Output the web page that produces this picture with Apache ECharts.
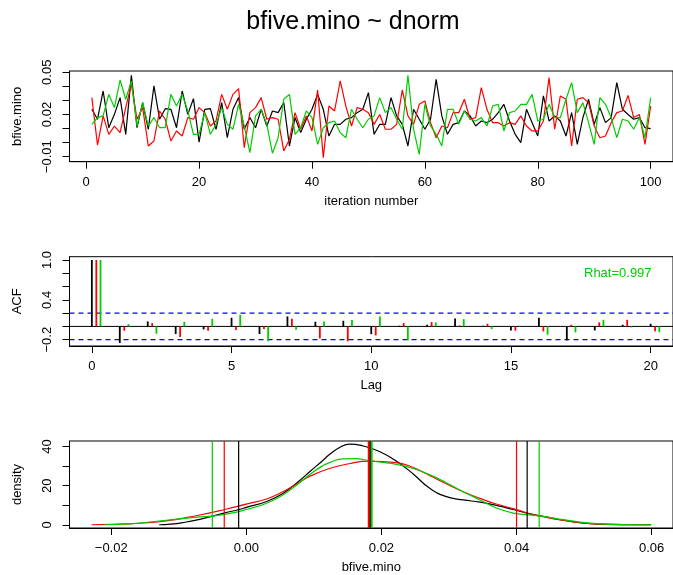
<!DOCTYPE html>
<html><head><meta charset="utf-8">
<script src="https://cdn.jsdelivr.net/npm/echarts@6/dist/echarts.min.js"></script>
<style>html,body{margin:0;padding:0;background:#fff}#c{width:673px;height:575px}</style>
</head><body><div id="c"></div>
<script>
// ---------- data ----------
const chainColors = ['#000000', '#FF0000', '#00CD00'];
const iterations = Array.from({length: 100}, (_, i) => i + 1);

const traceBlack = [0.0237,0.0166,0.0367,0.0106,0.0201,0.032,0.0059,0.0478,0.0106,0.0284,0.0095,0.0403,0.0166,0.0241,0.0237,0.0106,0.0367,0.0201,0.0313,0.0004,0.0237,0.0241,0.0095,0.0284,0.0035,
0.0237,0.032,0.0095,0.0178,0.0106,0.0237,0.0118,0.0225,0.0213,0.0284,-0.0024,0.0178,0.0071,0.0166,0.0237,0.0343,0.0237,0.0047,0.013,0.013,0.0166,0.0178,0.0213,0.0237,0.0355,
0.0059,0.013,0.013,0.032,0.019,0.013,-0.0024,0.0237,0.0166,0.0095,0.0166,0.045,0.019,0.0059,0.013,0.0142,0.0225,0.019,0.0118,0.0154,0.0142,0.0166,0.0213,0.0272,0.0154,
0.0059,0.0,0.0237,0.0142,0.0047,0.0332,0.0154,0.019,0.0154,0.0047,0.0213,-0.0012,0.0178,0.0308,0.013,0.0249,0.0142,0.0178,0.0426,0.0237,0.020,0.0166,0.0178,0.0106,0.010];
const traceRed = [0.032,-0.0017,0.019,0.0059,0.0118,0.0071,0.0249,0.0414,0.0166,0.0249,-0.0024,0.0012,0.0225,0.0166,0.0012,0.0083,0.0047,0.0178,0.0166,0.0249,0.0213,0.0118,0.0154,0.0343,0.0237,
0.0343,0.0384,-0.0036,0.0213,0.0249,0.032,0.0166,0.0178,0.0166,-0.0059,0.0023,0.0213,0.0095,0.019,0.0083,0.0374,-0.0107,0.026,0.0225,0.0438,0.026,0.0118,0.0249,0.0237,0.0213,
0.013,0.020,0.0095,0.0095,0.013,0.0374,0.019,0.013,0.0272,0.0296,0.0142,0.0035,0.0118,0.0106,0.0213,0.0213,0.0308,0.0166,0.0178,0.0391,0.0237,0.0142,0.0142,0.0118,0.0142,
0.013,0.019,0.0118,0.0083,0.0083,0.0154,0.0462,0.0095,0.0332,0.0308,-0.0024,0.0308,0.032,0.0284,0.0118,0.0035,0.0047,0.0142,0.0213,0.0225,0.0336,0.0178,0.020,-0.0012,0.026];
const traceGreen = [0.013,0.0178,0.019,0.0343,0.0249,0.0445,0.0308,0.0438,0.0118,0.0284,0.0118,0.0178,0.0106,0.0106,0.0343,0.026,0.0343,0.0225,0.0059,0.0059,0.0213,0.0059,0.013,0.0249,0.013,
0.0095,0.0272,0.0118,-0.0071,0.019,0.0237,0.013,-0.0076,0.0035,0.0308,0.0343,0.0059,0.0106,0.0225,0.0178,-0.0012,0.0106,0.0142,0.0154,0.0071,0.0035,0.0237,0.0166,0.0106,0.0166,
0.019,0.032,0.0213,0.0249,0.0166,0.0095,0.0478,0.0095,-0.0083,0.0272,0.0118,0.0059,-0.0024,0.0237,0.0237,0.013,0.0225,0.0166,0.0154,0.0178,0.0118,0.026,0.0272,0.0083,0.0213,
0.0225,0.0272,0.0272,0.0343,0.0154,0.0166,0.0272,0.0178,0.0178,0.0308,0.0426,0.0213,0.0284,0.0142,-0.0012,0.032,0.0272,0.0178,0.0035,0.0166,0.0154,0.0095,0.0178,0.0035,0.032];

const traceXTicks = [0, 20, 40, 60, 80, 100];
const traceYTicks = [-0.01, 0, 0.01, 0.02, 0.03, 0.04, 0.05];
const traceYLabels = [-0.01, 0.02, 0.05];

const acfLags = [0,1,2,3,4,5,6,7,8,9,10,11,12,13,14,15,16,17,18,19,20];
const acfBlack = [1,-0.25,0.075,-0.115,-0.045,0.13,-0.115,0.15,0.07,0.085,-0.115,0.01,0.025,0.12,0.01,-0.06,0.13,-0.21,-0.06,0.025,0.04];
const acfRed = [1,-0.065,0.05,-0.16,-0.065,-0.055,-0.04,0.115,-0.18,-0.225,-0.135,0.05,0.065,0.015,0.04,-0.065,-0.075,0.025,0.06,0.10,-0.075];
const acfGreen = [1,0.035,-0.11,0.07,0.115,0.175,-0.225,-0.05,0.075,0.095,0.15,-0.21,0.06,0.11,-0.04,0.01,-0.125,-0.09,0.10,-0.015,-0.085];
const acfOffsets = [0, 0.16, 0.31];
const acfBounds = [0.2, -0.2];
const acfXTicks = [0, 5, 10, 15, 20];
const acfYTicks = [-0.2, 0, 0.2, 0.4, 0.6, 0.8, 1.0];
const acfYLabels = [-0.2, 0.4, 1.0];
const rhatLabel = 'Rhat=0.997';

const densBlack = [[-0.0129,0],[-0.0112,0.3],[-0.0094,1.1],[-0.0069,2.8],[-0.0032,6.1],[-0.0011,7.8],[0.0,8.9],[0.003,11.9],[0.0054,16],[0.0075,21.5],[0.0095,27.5],[0.0112,32.5],[0.0123,35.9],[0.0138,39.5],[0.0153,41.3],[0.0173,40.3],[0.0197,37.5],[0.0222,32.6],[0.0247,26],[0.0272,18.5],[0.0296,14.4],[0.0321,12.7],[0.0346,11.6],[0.037,9.9],[0.0395,7.8],[0.042,5.6],[0.0444,4.0],[0.0469,2.3],[0.0494,1.1],[0.0519,0.3],[0.056,0.05],[0.0598,0]];
const densRed = [[-0.0229,0],[-0.0168,0.6],[-0.0119,2.0],[-0.0069,5.0],[-0.0032,7.8],[0.0,10.6],[0.003,13.2],[0.0054,16.9],[0.0075,21],[0.0095,25],[0.0123,28.8],[0.0152,31.2],[0.0181,32.6],[0.0222,31.8],[0.0247,29.3],[0.0272,25.1],[0.0296,21],[0.0321,16.9],[0.0346,13.5],[0.037,10.6],[0.04,7.8],[0.042,5.6],[0.0444,3.8],[0.0469,2.3],[0.0494,1.1],[0.0519,0.4],[0.056,0.1],[0.0599,0]];
const densGreen = [[-0.021,0],[-0.0168,0.6],[-0.0119,2.3],[-0.0069,4.0],[-0.005,4.4],[-0.002,6.1],[0.0,7.8],[0.003,11],[0.0054,15.2],[0.0075,20.5],[0.0095,26],[0.0112,30],[0.0123,31.8],[0.0143,33.7],[0.0163,33.8],[0.0173,33.4],[0.0197,32.1],[0.0222,30.9],[0.0247,28.8],[0.0272,25.5],[0.0296,21.5],[0.0321,16.9],[0.0346,12.7],[0.037,8.6],[0.0395,6.0],[0.042,5.0],[0.0444,4.0],[0.0469,2.6],[0.0494,1.4],[0.0519,0.6],[0.056,0.1],[0.06,0]];
const quantBlack = [-0.00114, 0.0183, 0.04157];
const quantRed = [-0.00327, 0.01812, 0.0400];
const quantGreen = [-0.00504, 0.01855, 0.04335];
const densXTicks = [-0.02, 0, 0.02, 0.04, 0.06];
const densYTicks = [0, 10, 20, 30, 40];
const densYLabels = [0, 20, 40];

// ---------- axis ranges ----------
const traceXRange = [-2.96, 103.96], traceYRange = [-0.01355, 0.0509];
const acfXRange = [-0.8, 20.8], acfYRange = [-0.295, 1.05];
const densXRange = [-0.02618, 0.06316], densYRange = [-1.65, 42.85];

// ---------- chart ----------
const FONT = 'Liberation Sans, Arial, Helvetica, sans-serif';
const minus = s => s.replace('-', '\u2212');
const fmt = d => v => minus(Number(v).toFixed(d));

function xAxisCfg(grid, range, ticks, name, dec) {
  return {
    gridIndex: grid, type: 'value', min: range[0], max: range[1],
    name: name, nameLocation: 'middle', nameGap: 33,
    nameTextStyle: {fontFamily: FONT, fontSize: 13, color: '#000'},
    axisLine: {show: true, onZero: false, lineStyle: {color: '#000', width: 1}},
    axisTick: {show: true, length: 7, customValues: ticks, lineStyle: {color: '#000', width: 1}},
    axisLabel: {show: true, margin: 14, fontFamily: FONT, fontSize: 13, color: '#000', customValues: ticks, formatter: fmt(dec)},
    splitLine: {show: false}
  };
}
function yAxisCfg(grid, range, ticks, labels, name, dec) {
  return {
    gridIndex: grid, type: 'value', min: range[0], max: range[1],
    name: name, nameLocation: 'middle', nameGap: 46, nameRotate: 90,
    nameTextStyle: {fontFamily: FONT, fontSize: 13, color: '#000'},
    axisLine: {show: true, onZero: false, lineStyle: {color: '#000', width: 1}},
    axisTick: {show: true, length: 7, customValues: ticks, lineStyle: {color: '#000', width: 1}},
    axisLabel: {show: true, rotate: 90, margin: 16, fontFamily: FONT, fontSize: 13, color: '#000', customValues: labels, formatter: fmt(dec)},
    splitLine: {show: false}
  };
}

function stickRender(params, api) {
  const x = api.value(0), y = api.value(1);
  const p0 = api.coord([x, 0]);
  const p1 = api.coord([x, y]);
  return {type: 'line', shape: {x1: p0[0], y1: p0[1], x2: p1[0], y2: p1[1]},
          style: {stroke: api.visual('color'), lineWidth: 1.8}};
}
function hlineRender(color, width, dash) {
  return function (params, api) {
    const y = api.value(0);
    const a = api.coord([acfXRange[0], y]);
    const b = api.coord([acfXRange[1], y]);
    return {type: 'line', shape: {x1: a[0], y1: a[1], x2: b[0], y2: b[1]},
            style: {stroke: color, lineWidth: width, lineDash: dash}};
  };
}
function vlineRender(color, width) {
  return function (params, api) {
    const x = api.value(0);
    const a = api.coord([x, densYRange[0]]);
    const b = api.coord([x, densYRange[1]]);
    return {type: 'line', shape: {x1: a[0], y1: a[1], x2: b[0], y2: b[1]},
            style: {stroke: color, lineWidth: width}};
  };
}

const traceSets = [traceBlack, traceRed, traceGreen];
const acfSets = [acfBlack, acfRed, acfGreen];
const densSets = [densBlack, densRed, densGreen];
const quantSets = [quantBlack, quantRed, quantGreen];

const series = [];
traceSets.forEach((vals, k) => {
  series.push({type: 'line', xAxisIndex: 0, yAxisIndex: 0, showSymbol: false, symbol: 'none',
    data: iterations.map((it, i) => [it, vals[i]]),
    lineStyle: {color: chainColors[k], width: 1.2}, itemStyle: {color: chainColors[k]}, z: 2 + k});
});
// ACF reference lines
series.push({type: 'custom', xAxisIndex: 1, yAxisIndex: 1, silent: true, renderItem: hlineRender('#000000', 1, null), data: [[0]], z: 2});
series.push({type: 'custom', xAxisIndex: 1, yAxisIndex: 1, silent: true, renderItem: hlineRender('#0000FF', 1.2, [5, 4]), data: acfBounds.map(b => [b]), z: 2});
acfSets.forEach((vals, k) => {
  series.push({type: 'custom', xAxisIndex: 1, yAxisIndex: 1, renderItem: stickRender,
    itemStyle: {color: chainColors[k]},
    data: acfLags.map((l, i) => [l + acfOffsets[k], vals[i]]), z: 3 + k});
});
densSets.forEach((pts, k) => {
  series.push({type: 'line', xAxisIndex: 2, yAxisIndex: 2, showSymbol: false, symbol: 'none',
    smooth: true, data: pts,
    lineStyle: {color: chainColors[k], width: 1.2}, itemStyle: {color: chainColors[k]}, z: 2 + k});
});
quantSets.forEach((qs, k) => {
  series.push({type: 'custom', xAxisIndex: 2, yAxisIndex: 2, silent: true, renderItem: vlineRender(chainColors[k], 1.2),
    data: [[qs[0]], [qs[2]]], z: 5 + k});
  series.push({type: 'custom', xAxisIndex: 2, yAxisIndex: 2, silent: true, renderItem: vlineRender(chainColors[k], 2),
    data: [[qs[1]]], z: 5 + k});
});

const chart = echarts.init(document.getElementById('c'), null, {renderer: 'canvas'});
chart.setOption({
  animation: false,
  backgroundColor: '#fff',
  title: {text: 'bfive.mino ~ dnorm', left: 348, top: 5, textAlign: 'center',
    textStyle: {fontFamily: FONT, fontSize: 25, fontWeight: 'normal', color: '#000'}},
  grid: [
    {left: 69.5, top: 71, width: 604, height: 90.7, show: true, borderColor: '#000', borderWidth: 1, backgroundColor: 'transparent'},
    {left: 69.5, top: 256.7, width: 604, height: 89.3, show: true, borderColor: '#000', borderWidth: 1, backgroundColor: 'transparent'},
    {left: 69.5, top: 441, width: 604, height: 89.7, show: true, borderColor: '#000', borderWidth: 1, backgroundColor: 'transparent'}
  ],
  xAxis: [
    xAxisCfg(0, traceXRange, traceXTicks, 'iteration number', 0),
    xAxisCfg(1, acfXRange, acfXTicks, 'Lag', 0),
    xAxisCfg(2, densXRange, densXTicks, 'bfive.mino', 2)
  ],
  yAxis: [
    yAxisCfg(0, traceYRange, traceYTicks, traceYLabels, 'bfive.mino', 2),
    yAxisCfg(1, acfYRange, acfYTicks, acfYLabels, 'ACF', 1),
    yAxisCfg(2, densYRange, densYTicks, densYLabels, 'density', 0)
  ],
  graphic: [
    {type: 'text', left: 584, top: 267, style: {text: rhatLabel, fontFamily: FONT, fontSize: 13, fill: '#00CD00'}}
  ],
  series: series
});
</script>
</body></html>
